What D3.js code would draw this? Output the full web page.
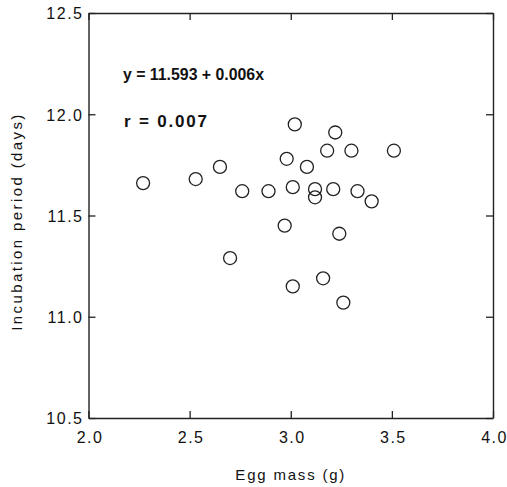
<!DOCTYPE html>
<html><head><meta charset="utf-8">
<script src="https://cdn.jsdelivr.net/npm/d3@7"></script>
<style>body{margin:0;background:#fff}</style>
</head><body>
<svg id="c" width="507" height="487"></svg>
<script>
const eggMass = [2.27,2.53,2.65,2.70,2.76,2.89,2.97,2.98,3.01,3.02,3.01,3.08,3.12,3.12,3.16,3.18,3.21,3.22,3.24,3.26,3.30,3.33,3.40,3.51];
const incubation = [11.66,11.68,11.74,11.29,11.62,11.62,11.45,11.78,11.64,11.95,11.15,11.74,11.63,11.59,11.19,11.82,11.63,11.91,11.41,11.07,11.82,11.62,11.57,11.82];
const xTicks = [2.0,2.5,3.0,3.5,4.0];
const yTicks = [10.5,11.0,11.5,12.0,12.5];
const xTitle = "Egg mass (g)";
const yTitle = "Incubation period (days)";
const eqText = "y = 11.593 + 0.006x";
const rText = "r = 0.007";

const svg = d3.select("#c");
const L=88.5, R=493, T=13, B=418;
const x = d3.scaleLinear().domain([2,4]).range([L,R]);
const y = d3.scaleLinear().domain([10.5,12.5]).range([B,T]);
const ink = "#222";
const font = "Liberation Sans, Arial, sans-serif";

const tl = 7;
const g = svg.append("g");
const bx = g.append("g").attr("transform",`translate(0,${B})`)
  .call(d3.axisBottom(x).tickValues(xTicks).tickFormat(d3.format(".1f")).tickSizeInner(-tl).tickSizeOuter(0).tickPadding(14));
const tx = g.append("g").attr("transform",`translate(0,${T})`)
  .call(d3.axisTop(x).tickValues(xTicks).tickFormat("").tickSizeInner(-tl).tickSizeOuter(0));
const ly = g.append("g").attr("transform",`translate(${L},0)`)
  .call(d3.axisLeft(y).tickValues(yTicks).tickFormat(d3.format(".1f")).tickSizeInner(-tl).tickSizeOuter(0).tickPadding(5));
const ry = g.append("g").attr("transform",`translate(${R},0)`)
  .call(d3.axisRight(y).tickValues(yTicks).tickFormat("").tickSizeInner(-tl).tickSizeOuter(0));
[bx,tx,ly,ry].forEach(a=>{
  a.select(".domain").attr("stroke",ink).attr("stroke-width",1.4);
  a.selectAll(".tick line").attr("stroke",ink).attr("stroke-width",1.3);
  a.selectAll("text").attr("fill","#111").style("font-family",font).style("font-size","16px").style("letter-spacing","1.5px");
});
bx.selectAll(".tick text").attr("dy","0.71em").attr("dx","1px");
ly.selectAll(".tick text").attr("dy","0.36em");

svg.append("text").attr("x",(L+R)/2).attr("y",480).attr("text-anchor","middle")
  .style("font-family",font).style("font-size","15px").style("letter-spacing","1.8px").attr("fill","#111").text(xTitle);
svg.append("text").attr("transform",`translate(22,${(T+B)/2+6}) rotate(-90)`).attr("text-anchor","middle")
  .style("font-family",font).style("font-size","15px").style("letter-spacing","2.4px").attr("fill","#111").text(yTitle);

svg.append("text").attr("x",123).attr("y",80).style("font-family",font).style("font-size","17px").style("font-weight","bold")
  .attr("fill","#111").attr("textLength",141).attr("lengthAdjust","spacingAndGlyphs").text(eqText);
svg.append("text").attr("x",124).attr("y",127).style("font-family",font).style("font-size","17px").style("font-weight","bold")
  .attr("fill","#111").attr("textLength",83).attr("lengthAdjust","spacing").text(rText);

svg.append("g").selectAll("circle").data(eggMass.map((d,i)=>[d,incubation[i]])).join("circle")
  .attr("cx",d=>x(d[0])).attr("cy",d=>y(d[1])).attr("r",6.5)
  .attr("fill","none").attr("stroke",ink).attr("stroke-width",1.3);
</script>
</body></html>
